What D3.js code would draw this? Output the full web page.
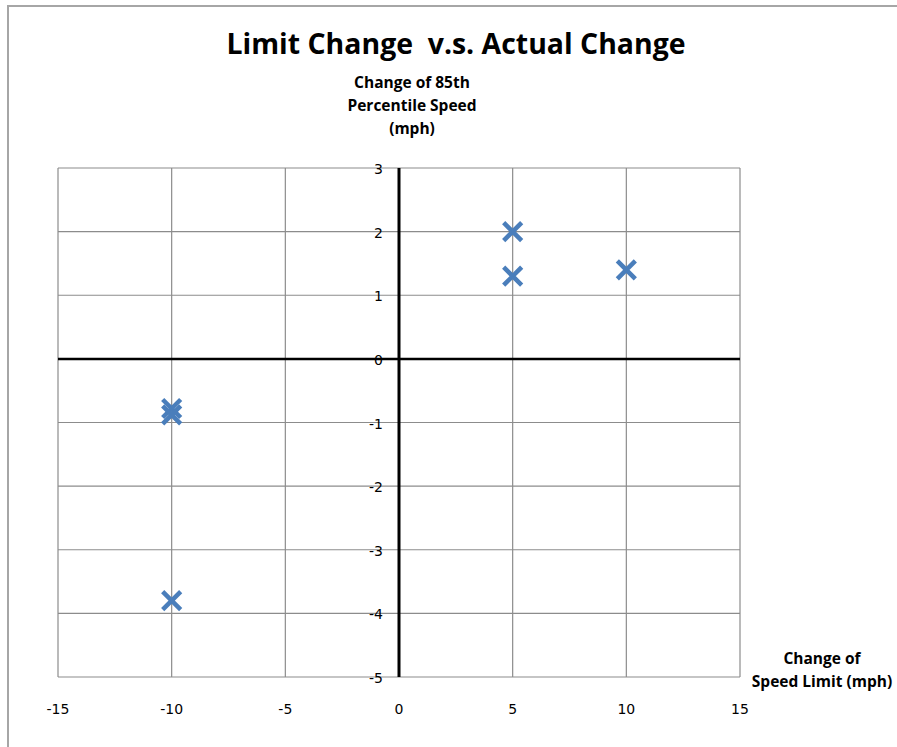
<!DOCTYPE html>
<html>
<head>
<meta charset="utf-8">
<script src="https://cdn.jsdelivr.net/npm/d3@7"></script>
<style>
  body { margin: 0; background: #fff; }
  svg { display: block; }
</style>
</head>
<body>
<div id="chart"></div>
<script>
// data
var limitChange = [5, 5, 10, -10, -10, -10];
var speedChange = [2.0, 1.3, 1.4, -0.78, -0.88, -3.8];
var xTicks = [-15, -10, -5, 0, 5, 10, 15];
var yTicks = [3, 2, 1, 0, -1, -2, -3, -4, -5];

var width = 897, height = 747;
var plot = { left: 58, right: 740, top: 168, bottom: 677 };

var titleFont = "'Open Sans', sans-serif";
var tickFont = "'DejaVu Sans', Verdana, sans-serif";

var svg = d3.select("#chart")
  .append("svg")
  .attr("width", width)
  .attr("height", height);

// chart frame
svg.append("path")
  .attr("d", "M8," + height + "V6H" + width)
  .attr("fill", "none")
  .attr("stroke", "#a6a6a6")
  .attr("stroke-width", 2);

var x = d3.scaleLinear().domain([-15, 15]).range([plot.left, plot.right]);
var y = d3.scaleLinear().domain([-5, 3]).range([plot.bottom, plot.top]);

// grid
svg.append("g").selectAll("line")
  .data(xTicks.filter(function(d) { return d !== 0; }))
  .enter().append("line")
  .attr("x1", function(d) { return x(d); })
  .attr("x2", function(d) { return x(d); })
  .attr("y1", plot.top)
  .attr("y2", plot.bottom)
  .attr("stroke", "#8c8c8c")
  .attr("stroke-width", 1.2);

svg.append("g").selectAll("line")
  .data(yTicks.filter(function(d) { return d !== 0; }))
  .enter().append("line")
  .attr("x1", plot.left)
  .attr("x2", plot.right)
  .attr("y1", function(d) { return y(d); })
  .attr("y2", function(d) { return y(d); })
  .attr("stroke", "#8c8c8c")
  .attr("stroke-width", 1.2);

// zero axes
svg.append("line")
  .attr("x1", plot.left).attr("x2", plot.right)
  .attr("y1", y(0)).attr("y2", y(0))
  .attr("stroke", "#000").attr("stroke-width", 2.5);

svg.append("line")
  .attr("x1", x(0)).attr("x2", x(0))
  .attr("y1", plot.top).attr("y2", plot.bottom)
  .attr("stroke", "#000").attr("stroke-width", 3);

// tick labels
svg.append("g").selectAll("text")
  .data(xTicks)
  .enter().append("text")
  .attr("x", function(d) { return x(d); })
  .attr("y", 714)
  .attr("text-anchor", "middle")
  .attr("font-family", tickFont)
  .attr("font-size", 14)
  .attr("fill", "#000")
  .text(function(d) { return d; });

svg.append("g").selectAll("text")
  .data(yTicks)
  .enter().append("text")
  .attr("x", x(0) - 16)
  .attr("y", function(d) { return y(d) + 6; })
  .attr("text-anchor", "end")
  .attr("font-family", tickFont)
  .attr("font-size", 14)
  .attr("fill", "#000")
  .text(function(d) { return d; });

// markers
var s = 9;
svg.append("g").selectAll("path")
  .data(limitChange)
  .enter().append("path")
  .attr("d", function(d, i) {
    var cx = x(d), cy = y(speedChange[i]);
    return "M" + (cx - s) + "," + (cy - s) + "L" + (cx + s) + "," + (cy + s) +
      "M" + (cx - s) + "," + (cy + s) + "L" + (cx + s) + "," + (cy - s);
  })
  .attr("stroke", "#4a7ebb")
  .attr("stroke-width", 4.5)
  .attr("fill", "none");

// titles
svg.append("text")
  .attr("x", 456)
  .attr("y", 54)
  .attr("text-anchor", "middle")
  .attr("font-family", titleFont)
  .attr("font-weight", "bold")
  .attr("font-size", 28)
  .attr("textLength", 459)
  .attr("lengthAdjust", "spacingAndGlyphs")
  .style("white-space", "pre")
  .text("Limit Change  v.s. Actual Change");

var yTitle = ["Change of 85th", "Percentile Speed", "(mph)"];
svg.append("g").selectAll("text")
  .data(yTitle)
  .enter().append("text")
  .attr("x", 412)
  .attr("y", function(d, i) { return 88 + i * 23; })
  .attr("text-anchor", "middle")
  .attr("font-family", titleFont)
  .attr("font-weight", "bold")
  .attr("font-size", 15.5)
  .text(function(d) { return d; });

var xTitle = ["Change of", "Speed Limit (mph)"];
svg.append("g").selectAll("text")
  .data(xTitle)
  .enter().append("text")
  .attr("x", 822)
  .attr("y", function(d, i) { return 664 + i * 23; })
  .attr("text-anchor", "middle")
  .attr("font-family", titleFont)
  .attr("font-weight", "bold")
  .attr("font-size", 15.5)
  .text(function(d) { return d; });
</script>
</body>
</html>
